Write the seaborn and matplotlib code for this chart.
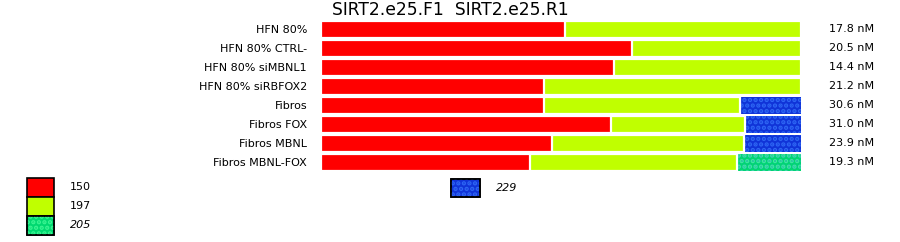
import matplotlib
matplotlib.use("Agg")
import matplotlib.pyplot as plt
import seaborn as sns
import pandas as pd
import numpy as np
from matplotlib.patches import Rectangle

samples = ["HFN 80%", "HFN 80% CTRL-", "HFN 80% siMBNL1", "HFN 80% siRBFOX2",
           "Fibros", "Fibros FOX", "Fibros MBNL", "Fibros MBNL-FOX"]
s150 = [50.8, 64.8, 61.0, 46.5, 46.5, 60.4, 48.1, 43.5]
s197 = [49.2, 35.2, 39.0, 53.5, 40.8, 27.9, 40.0, 43.1]
s205 = [0, 0, 0, 0, 0, 0, 0, 13.4]
s229 = [0, 0, 0, 0, 12.7, 11.7, 11.9, 0]
conc = ["17.8 nM", "20.5 nM", "14.4 nM", "21.2 nM", "30.6 nM", "31.0 nM", "23.9 nM", "19.3 nM"]
title = "SIRT2.e25.F1  SIRT2.e25.R1"

sns.set_theme(style="white")
plt.rcParams['font.family'] = ['DejaVu Sans']
plt.rcParams['hatch.linewidth'] = 2.2

df = pd.DataFrame({"sample": samples, "150": s150, "197": s197, "205": s205, "229": s229})
df["c1"] = df["150"]
df["c2"] = df["c1"] + df["197"]
df["c3"] = df["c2"] + df["205"]
df["c4"] = df["c3"] + df["229"]

fig = plt.figure(figsize=(9, 2.42), dpi=100)
ax = fig.add_axes([321/900, (242-171.8)/242, 480/900, 152/242])

red = "#ff0000"
green = "#c0ff00"
teal = "#00d870"
teal_dot = "#3af592"
blue = "#1034d8"
blue_dot = "#2e66f4"
HATCH = "..."

H = 0.89
sns.barplot(data=df, y="sample", x="c4", color=blue, orient="y", width=H,
            saturation=1, linewidth=0, ax=ax)
n_blue = len(ax.patches)
sns.barplot(data=df, y="sample", x="c3", color=teal, orient="y", width=H,
            saturation=1, linewidth=0, ax=ax)
n_teal = len(ax.patches)
for i, p in enumerate(ax.patches[:n_teal]):
    dot = blue_dot if i < n_blue else teal_dot
    ax.add_patch(Rectangle(p.get_xy(), p.get_width(), p.get_height(),
                           facecolor="none", edgecolor=dot, linewidth=0,
                           hatch=HATCH, zorder=p.get_zorder() + 0.01))
sns.barplot(data=df, y="sample", x="c2", color=green, orient="y", width=H,
            saturation=1, edgecolor="white", linewidth=1.6, ax=ax)
sns.barplot(data=df, y="sample", x="c1", color=red, orient="y", width=H,
            saturation=1, edgecolor="white", linewidth=1.6, ax=ax)
for p in ax.patches[n_teal + len(samples):]:
    p.set_zorder(5)

ax.set_xlim(0, 100)
ax.set_ylim(len(samples) - 0.5, -0.5)
ax.set_xlabel("")
ax.set_ylabel("")
ax.set_xticks([])
ax.tick_params(axis="y", length=0, pad=10, labelsize=8, labelcolor="black")
for sp in ax.spines.values():
    sp.set_visible(False)

for i, c in enumerate(conc):
    ax.text(105.8, i, c, va="center", ha="left", fontsize=8, color="black")

fig.text(450/900, 1 - 10/242, title, ha="center", va="center", fontsize=12.3, color="black")

def swatch(x, ytop, w, h, fc, dc=None):
    y0 = (242 - ytop - h) / 242
    fig.add_artist(Rectangle((x/900, y0), w/900, h/242, transform=fig.transFigure,
                             facecolor=fc, edgecolor="black", linewidth=1.2))
    if dc:
        fig.add_artist(Rectangle((x/900, y0), w/900, h/242, transform=fig.transFigure,
                                 facecolor="none", edgecolor=dc, linewidth=0, hatch=HATCH))
        fig.add_artist(Rectangle((x/900, y0), w/900, h/242, transform=fig.transFigure,
                                 facecolor="none", edgecolor="black", linewidth=1.2))

leg_left = [("150", red, None, "normal"), ("197", green, None, "normal"),
            ("205", teal, teal_dot, "italic")]
for k, (lab, fc, dc, st) in enumerate(leg_left):
    swatch(27, 178 + 19 * k, 27, 18.5, fc, dc)
    fig.text(70/900, 1 - (187 + 19 * k)/242, lab, ha="left", va="center", fontsize=8,
             style=st, color="black")

swatch(451, 179, 29, 18, blue, blue_dot)
fig.text(496/900, 1 - 188/242, "229", ha="left", va="center", fontsize=8, style="italic",
         color="black")

fig.savefig("out.png", dpi=100, facecolor="white")
